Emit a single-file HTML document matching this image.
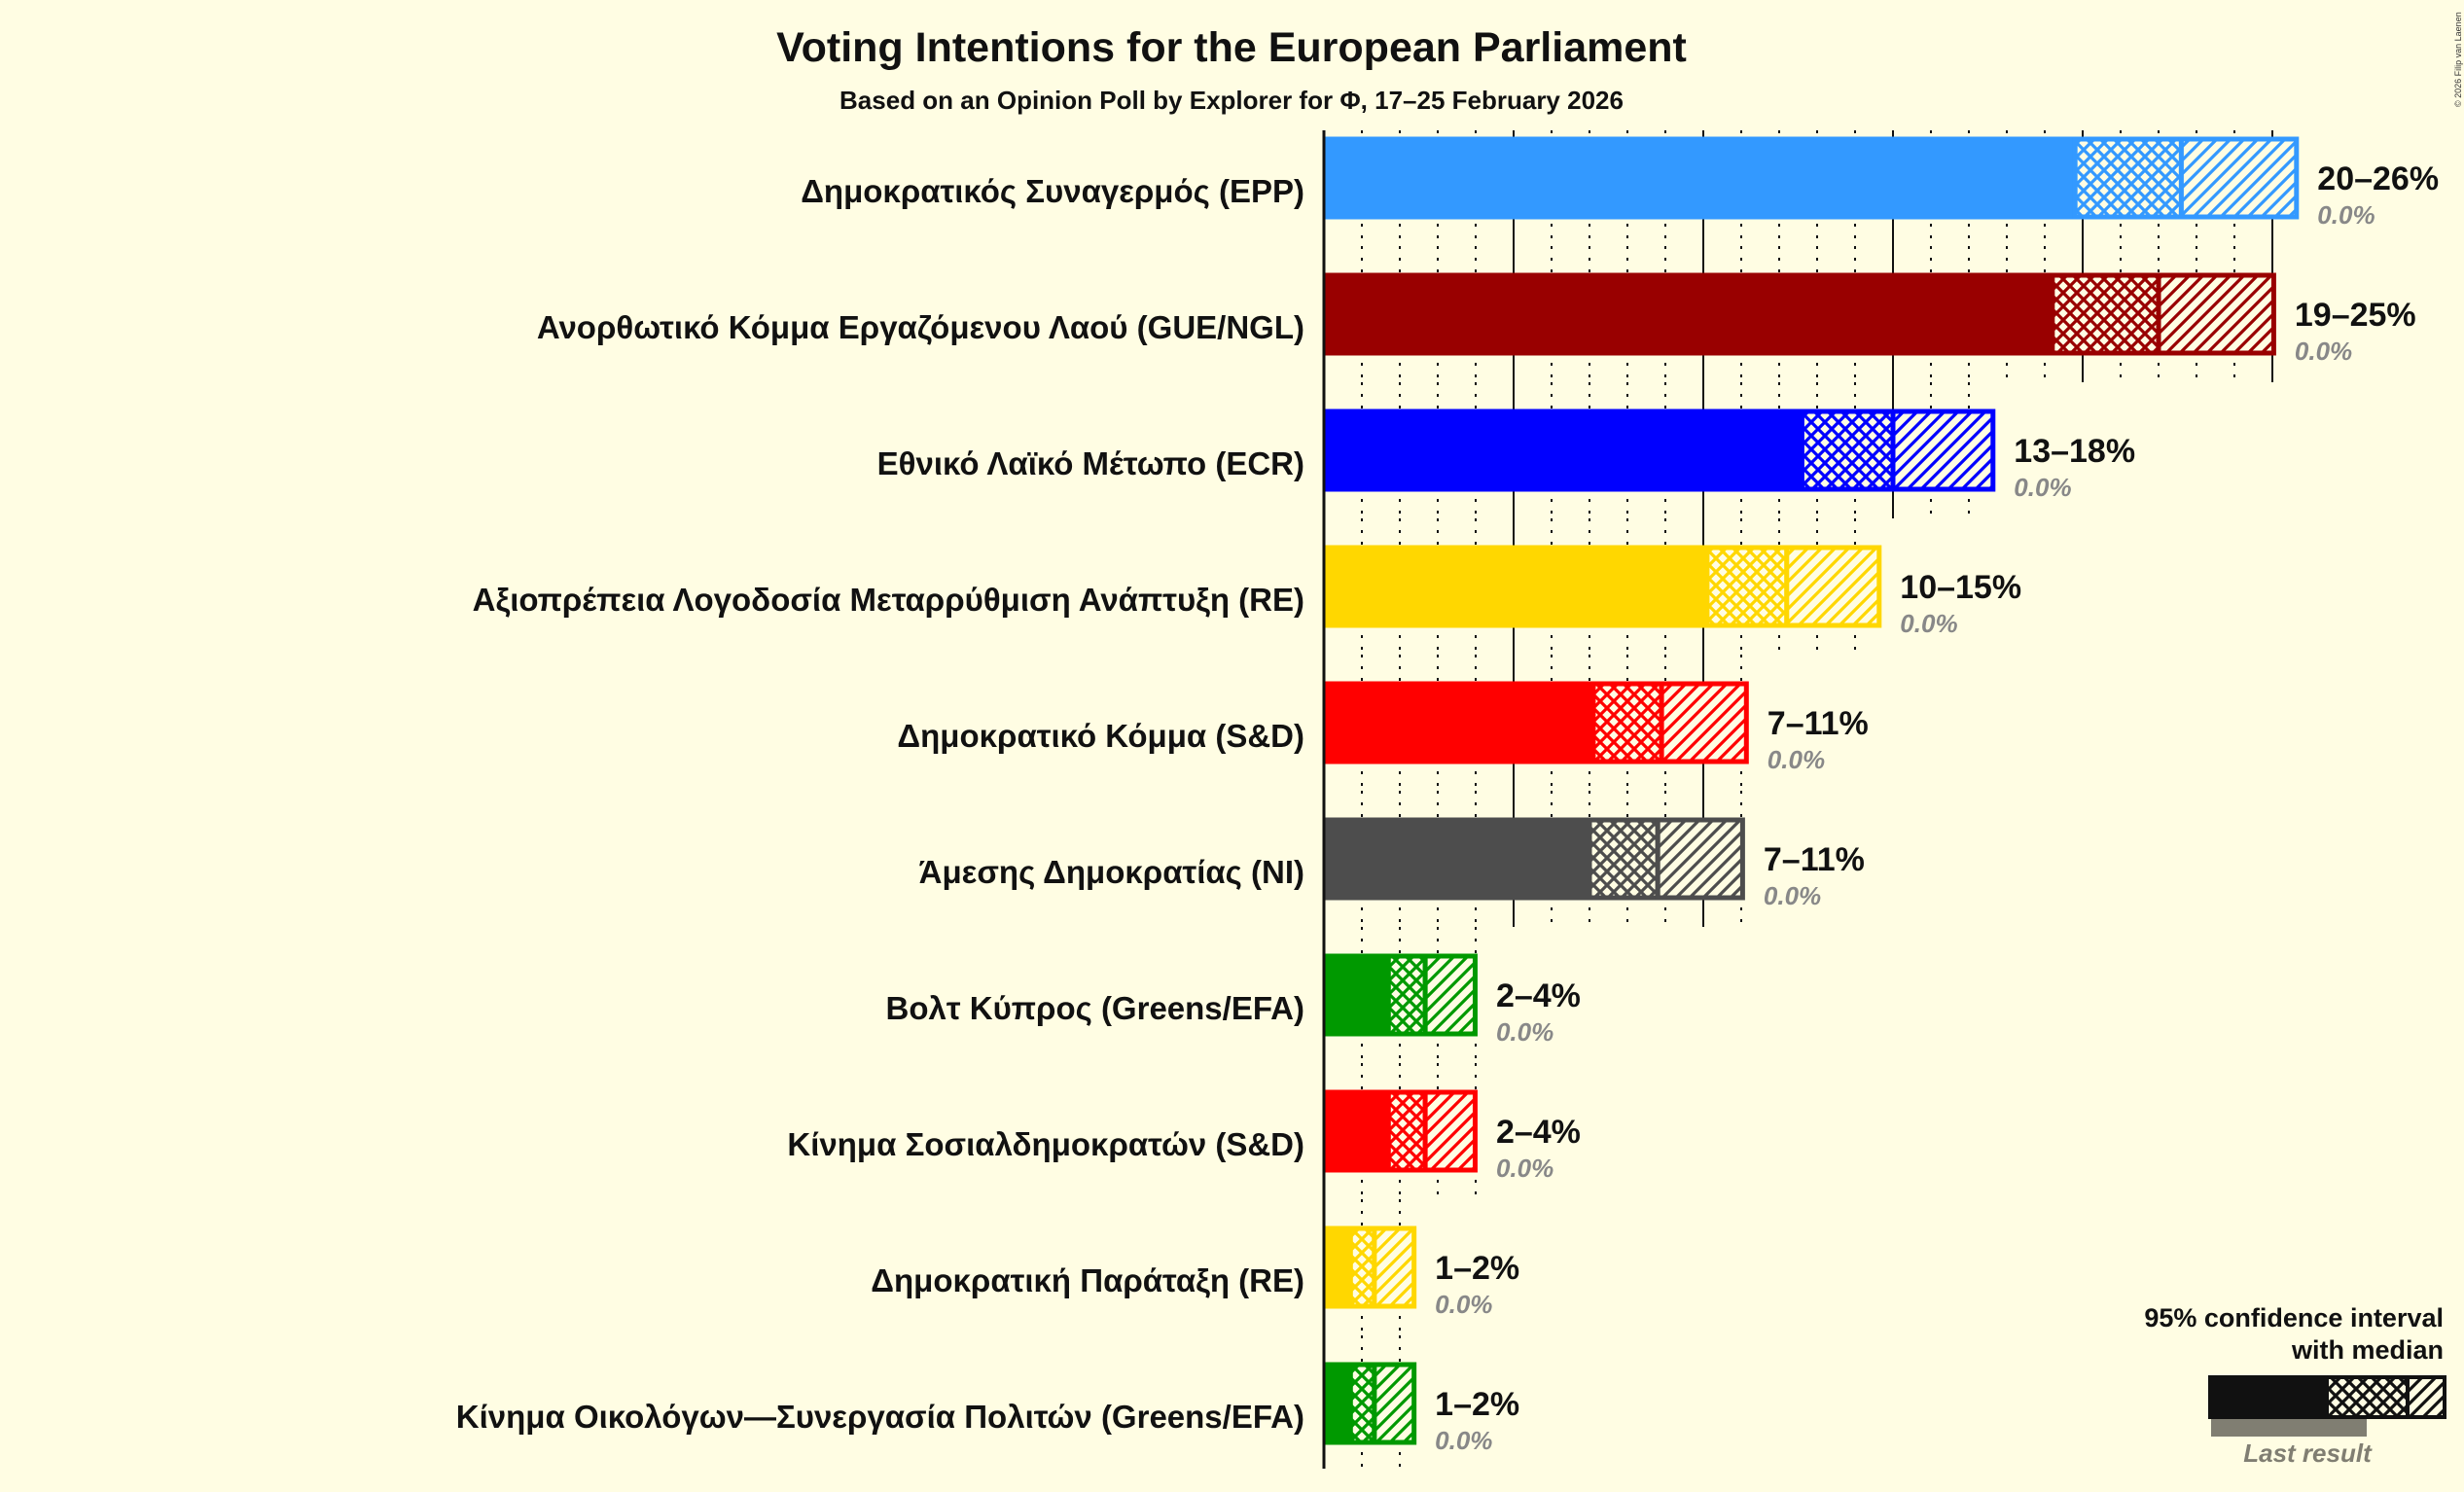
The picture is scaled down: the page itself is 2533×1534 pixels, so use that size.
<!DOCTYPE html>
<html><head><meta charset="utf-8">
<style>
html,body{margin:0;padding:0;background:#FFFDE3;}
svg{display:block;}
text{font-family:"Liberation Sans",sans-serif;}
</style></head>
<body>
<svg id="chart" width="2533" height="1534" viewBox="0 0 2533 1534" xmlns="http://www.w3.org/2000/svg">
<rect width="2533" height="1534" fill="#FFFDE3"/>
<defs id="defs"></defs>
<text x="1266" y="63" text-anchor="middle" font-size="43" font-weight="bold" fill="#111">Voting Intentions for the European Parliament</text>
<text x="1266" y="112" text-anchor="middle" font-size="26" font-weight="bold" fill="#111">Based on an Opinion Poll by Explorer for Φ, 17–25 February 2026</text>
<text transform="translate(2530,110) rotate(-90)" font-size="9" fill="#333">© 2026 Filip van Laenen</text>
<g id="grid"></g>
<g id="bars"></g>
<line x1="1361" y1="134" x2="1361" y2="1510" stroke="#111" stroke-width="3"/>
<g>
<text x="2512" y="1364" text-anchor="end" font-size="27" font-weight="bold" fill="#111">95% confidence interval</text>
<text x="2512" y="1397" text-anchor="end" font-size="27" font-weight="bold" fill="#111">with median</text>
<rect x="2273" y="1459" width="160" height="18" fill="#807E72"/>
<rect x="2270" y="1414" width="122" height="45" fill="#111"/>
<rect x="2392" y="1416" width="83" height="41" fill="url(#cross-111)" stroke="#111" stroke-width="4"/>
<rect x="2475" y="1416" width="38" height="41" fill="url(#hatch-111)" stroke="#111" stroke-width="4"/>
<text x="2372" y="1503" text-anchor="middle" font-size="26" font-style="italic" font-weight="bold" fill="#807E72">Last result</text>
</g>
</svg>
<script>
const parties = ["Δημοκρατικός Συναγερμός (EPP)","Ανορθωτικό Κόμμα Εργαζόμενου Λαού (GUE/NGL)","Εθνικό Λαϊκό Μέτωπο (ECR)","Αξιοπρέπεια Λογοδοσία Μεταρρύθμιση Ανάπτυξη (RE)","Δημοκρατικό Κόμμα (S&D)","Άμεσης Δημοκρατίας (NI)","Βολτ Κύπρος (Greens/EFA)","Κίνημα Σοσιαλδημοκρατών (S&D)","Δημοκρατική Παράταξη (RE)","Κίνημα Οικολόγων—Συνεργασία Πολιτών (Greens/EFA)"];
const ciLow = [19.8,19.2,12.6,10.1,7.1,7.0,1.7,1.7,0.7,0.7];
const median = [22.6,22.0,15.0,12.2,8.9,8.8,2.67,2.67,1.33,1.33];
const ciHigh = [25.7,25.1,17.7,14.7,11.2,11.1,4.05,4.05,2.44,2.44];
const rangeLabels = ["20–26%","19–25%","13–18%","10–15%","7–11%","7–11%","2–4%","2–4%","1–2%","1–2%"];
const lastResult = ["0.0%","0.0%","0.0%","0.0%","0.0%","0.0%","0.0%","0.0%","0.0%","0.0%"];
const colors = ["#3399FF","#990000","#0000FF","#FFD700","#FF0000","#4D4D4D","#009900","#FF0000","#FFD700","#009900"];

const NS="http://www.w3.org/2000/svg";
const X0=1361, PX=39, Y0=183, ROW=140, BH=85;
function xs(v){return X0+PX*v;}
function yc(i){return Y0+ROW*i;}
function mk(tag,attrs,parent){const e=document.createElementNS(NS,tag);for(const k in attrs)e.setAttribute(k,attrs[k]);parent.appendChild(e);return e;}

const defs=document.getElementById('defs');
const cols=[...new Set(colors.concat(["#111"]))];
cols.forEach(c=>{
  const id=c.replace('#','');
  const p1=mk('pattern',{id:'cross-'+id,width:14,height:14,patternUnits:'userSpaceOnUse'},defs);
  mk('rect',{width:14,height:14,fill:'#FFFDE3'},p1);
  mk('path',{d:'M-2,2 L2,-2 M0,14 L14,0 M12,16 L16,12 M-2,12 L2,16 M0,0 L14,14 M12,-2 L16,2',stroke:c,'stroke-width':3.2},p1);
  const p2=mk('pattern',{id:'hatch-'+id,width:14,height:14,patternUnits:'userSpaceOnUse'},defs);
  mk('rect',{width:14,height:14,fill:'#FFFDE3'},p2);
  mk('path',{d:'M-2,2 L2,-2 M0,14 L14,0 M12,16 L16,12',stroke:c,'stroke-width':3.2},p2);
});

const grid=document.getElementById('grid');
const bars=document.getElementById('bars');
parties.forEach((name,i)=>{
  const c=yc(i), top=c-BH/2;
  const y1 = i===0 ? 134 : c-70;
  const y2 = i===parties.length-1 ? 1510 : c+70;
  const maxT=Math.floor(ciHigh[i]);
  for(let t=1;t<=maxT;t++){
    const major=t%5===0;
    const gl=mk('line',{x1:xs(t),x2:xs(t),y1:y1,y2:y2,stroke:'#111','stroke-width':2,'stroke-dasharray':major?'none':'3,9'},grid);
    
    
  }
  const col=colors[i], id=col.replace('#','');
  const g=mk('g',{},bars);
  
  
  const solid=mk('rect',{x:X0,y:top,width:xs(ciLow[i])-X0,height:BH,fill:col},g);
  
  
  const lo=mk('rect',{x:xs(ciLow[i]),y:top+2.5,width:xs(median[i])-xs(ciLow[i]),height:BH-5,fill:'url(#cross-'+id+')',stroke:col,'stroke-width':5},g);
  
  
  const hi=mk('rect',{x:xs(median[i]),y:top+2.5,width:xs(ciHigh[i])-xs(median[i])-2.5,height:BH-5,fill:'url(#hatch-'+id+')',stroke:col,'stroke-width':5},g);
  
  
  const lbl=mk('text',{x:1341,y:c+25,'text-anchor':'end','font-size':33,'font-weight':'bold',fill:'#111'},g);
  lbl.textContent=name;
  
  
  const rl=mk('text',{x:xs(ciHigh[i])+19,y:c+12,'font-size':34,'font-weight':'bold',fill:'#111'},g);
  rl.textContent=rangeLabels[i];
  
  
  const lr=mk('text',{x:xs(ciHigh[i])+19,y:c+47,'font-size':26,'font-style':'italic','font-weight':'bold',fill:'#888'},g);
  lr.textContent=lastResult[i];
  
  
});
</script>
</body></html>
